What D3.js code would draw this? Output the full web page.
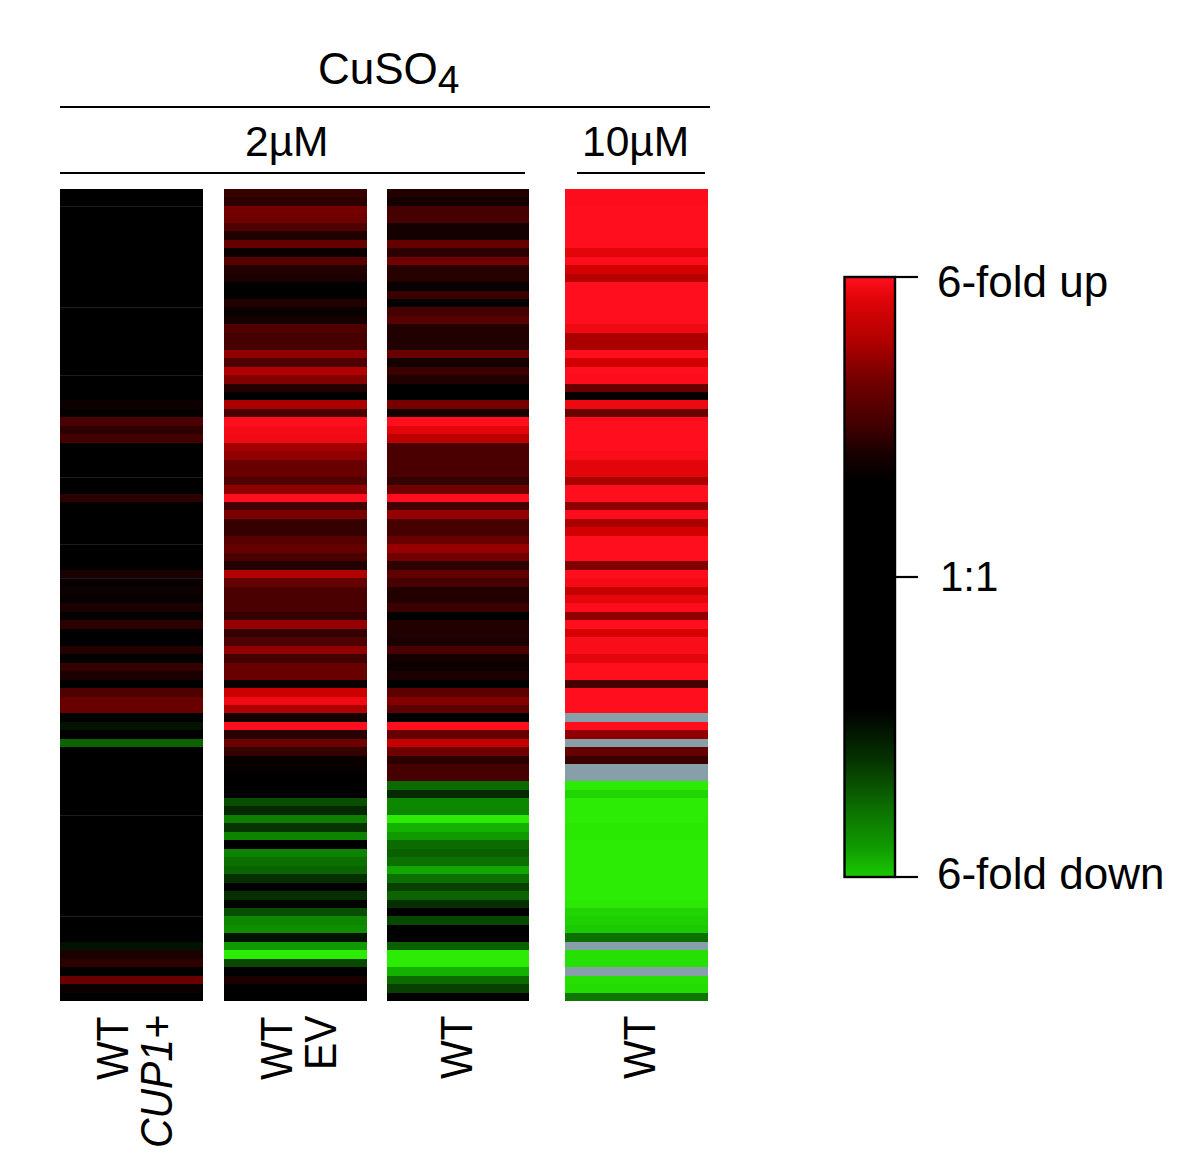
<!DOCTYPE html>
<html><head><meta charset="utf-8">
<script src="https://cdn.jsdelivr.net/npm/d3@7/dist/d3.min.js"></script>
<style>html,body{margin:0;background:#fff}svg{display:block}text{font-family:"Liberation Sans",Arial,sans-serif;fill:#000}</style>
</head><body><svg id="c" width="1200" height="1175"></svg>
<script>
// values: +1 = brightest red, 0 = black, -1 = brightest green, null = missing (grey)
const _ = null;
const seriesCup1 = [0,0,0,0,0,0,0,0,0,0,0,0,0,0,0,0,0,0,0,0,0,0,0,0,0,.05,.02,.28,.17,.25,0,0,
  0,0,0,0,.17,0,0,0,0,0,0,0,0,.1,.03,.05,.03,.1,.01,.16,0,0,.14,0,.2,.1,0,.3,.4,.4,0,-.08,
  0,-.42,0,0,0,0,0,0,0,0,0,0,0,0,0,0,0,0,0,0,0,0,0,0,0,-.07,.1,.17,.01,.4,.04,0];
const seriesEV = [.2,.17,.45,.42,.3,.12,.38,.04,.33,.13,.1,0,0,.13,.04,.08,.3,.27,.27,.55,.3,.67,.5,.13,0,.65,.28,1,.95,.93,.62,.55,
  .4,.4,.3,.55,1,.25,.47,.2,.2,.33,.38,.28,.13,.67,.38,.28,.28,.28,.2,.57,.2,.3,.55,.25,.4,.4,.05,.78,.93,.67,.08,1,
  .15,.42,.2,.03,.03,0,0,0,-.33,-.17,-.53,-.22,-.55,0,-.55,-.47,-.42,-.2,0,-.2,-.02,-.33,-.57,-.6,-.07,-.65,-1,-.3,0,.1,0,0];
const seriesWT = [.13,.08,.27,.27,.08,.08,.38,.17,.43,.15,.15,.03,.22,0,.27,.33,.13,.12,.12,.4,.08,.22,.12,0,0,.45,.08,1,.87,.72,.28,.28,
  .28,.28,.2,.43,1,.25,.57,.27,.27,.4,.57,.43,.18,.37,.27,.13,.13,.22,0,.13,.12,.1,.28,.08,.05,.1,0,.35,.5,.35,0,1,
  .38,.75,.42,.17,.27,.27,-.45,-.17,-.57,-.57,-1,-.75,-.65,-.45,-.4,-.47,-.7,-.47,-.27,-.42,-.2,0,-.3,0,0,-.4,-1,-1,-.75,-.45,-.27,0];
const seriesWT10 = [.98,.98,1,1,1,1,1,.87,.98,.8,.7,1,1,1,1,1,.93,.65,.65,1,.8,1,.98,.4,.03,.92,.4,1,1,1,1,.97,
  .87,.87,.65,1,1,.55,.98,.65,.8,1,1,1,.5,1,.95,.75,.88,.98,.55,1,.82,.97,.97,.88,1,1,.27,1,1,1,_,1,
  .55,_,.38,.22,_,_,-1,-.9,-1,-1,-1,-.98,-.98,-1,-1,-1,-1,-1,-1,-1,-.98,-.9,-.88,-.85,-.47,_,-.95,-.95,_,-.95,-.93,-.5];
const columns = [seriesCup1, seriesEV, seriesWT, seriesWT10];
const legendTicks = ["6-fold up","1:1","6-fold down"];
const legendValues = [1,0,-1];
const faintRows = [2,14,22,34,42,46,74,86];

const GREY="#879fa9";
const colLeft=[60,224,387,565], colW=[143,143,142,143], hmTop=189, hmBottom=1001;
const svg=d3.select("#c");
const color=d3.scaleLinear().domain([-1,-.8,0,.8,1])
  .range(["#2ceb05","#14be00","#000000","#d20000","#ff0f1e"]).clamp(true);
const y=d3.scaleBand().domain(d3.range(seriesEV.length)).range([hmTop,hmBottom]);

columns.forEach((s,ci)=>{
  svg.append("g").attr("shape-rendering","crispEdges").selectAll("rect").data(s).join("rect")
    .attr("x",colLeft[ci]).attr("width",colW[ci])
    .attr("y",(d,i)=>Math.round(y(i))).attr("height",(d,i)=>Math.round(y(i)+y.bandwidth())-Math.round(y(i)))
    .attr("fill",d=>d===null?GREY:color(d));
});
svg.append("g").attr("shape-rendering","crispEdges").selectAll("line").data(faintRows).join("line")
  .attr("x1",colLeft[0]).attr("x2",colLeft[0]+colW[0])
  .attr("y1",d=>Math.round(y(d))+.5).attr("y2",d=>Math.round(y(d))+.5).attr("stroke","#1c1c1c");

// legend
const lg=svg.append("defs").append("linearGradient").attr("id","lg").attr("x1",0).attr("x2",0).attr("y1",0).attr("y2",1);
const legendStops=[[0,1],[.04,.85],[.107,.67],[.174,.43],[.24,.27],[.3,.08],[.34,0],[.72,0],[.8,-.2],[.88,-.45],[.95,-.65],[1,-.85]];
legendStops.forEach(([t,v])=>lg.append("stop").attr("offset",t).attr("stop-color",color(v)));
const ly=d3.scaleLinear().domain([-1,1]).range([877,277]);
svg.append("rect").attr("x",844.5).attr("y",277).attr("width",50.5).attr("height",600)
  .attr("fill","url(#lg)").attr("stroke","#000").attr("stroke-width",2.4);
const legendBase=[297,591,889], legendX=[937,940,937], legendSize=[44,42,44];
legendValues.forEach((v,i)=>{
  svg.append("line").attr("x1",895).attr("x2",918).attr("y1",ly(v)).attr("y2",ly(v)).attr("stroke","#000").attr("stroke-width",2.2);
  svg.append("text").attr("x",legendX[i]).attr("y",legendBase[i]).attr("font-size",legendSize[i]).text(legendTicks[i]);
});

// headers
const rule=(a,b,yy)=>svg.append("line").attr("x1",a).attr("x2",b).attr("y1",yy).attr("y2",yy).attr("stroke","#000").attr("stroke-width",2.2);
rule(60,710,107);rule(60,525,173);rule(577,705,173);
const t1=svg.append("text").attr("x",318).attr("y",84).attr("font-size",44);
t1.append("tspan").text("CuSO");
t1.append("tspan").attr("dy",9).attr("font-size",39).text("4");
svg.append("text").attr("x",245).attr("y",156).attr("font-size",42.5).text("2µM");
svg.append("text").attr("x",582).attr("y",156).attr("font-size",42.5).text("10µM");

// column labels
const vert=(x,yy,txt,it)=>svg.append("text").attr("transform",`translate(${x},${yy}) rotate(-90) scale(.93,1)`).attr("font-size",44).attr("font-style",it?"italic":null).text(txt);
vert(128,1080,"WT");vert(172,1148,"CUP1+",true);
vert(292,1080,"WT");vert(336,1070,"EV");
vert(472,1079,"WT");vert(655,1079,"WT");
</script></body></html>
